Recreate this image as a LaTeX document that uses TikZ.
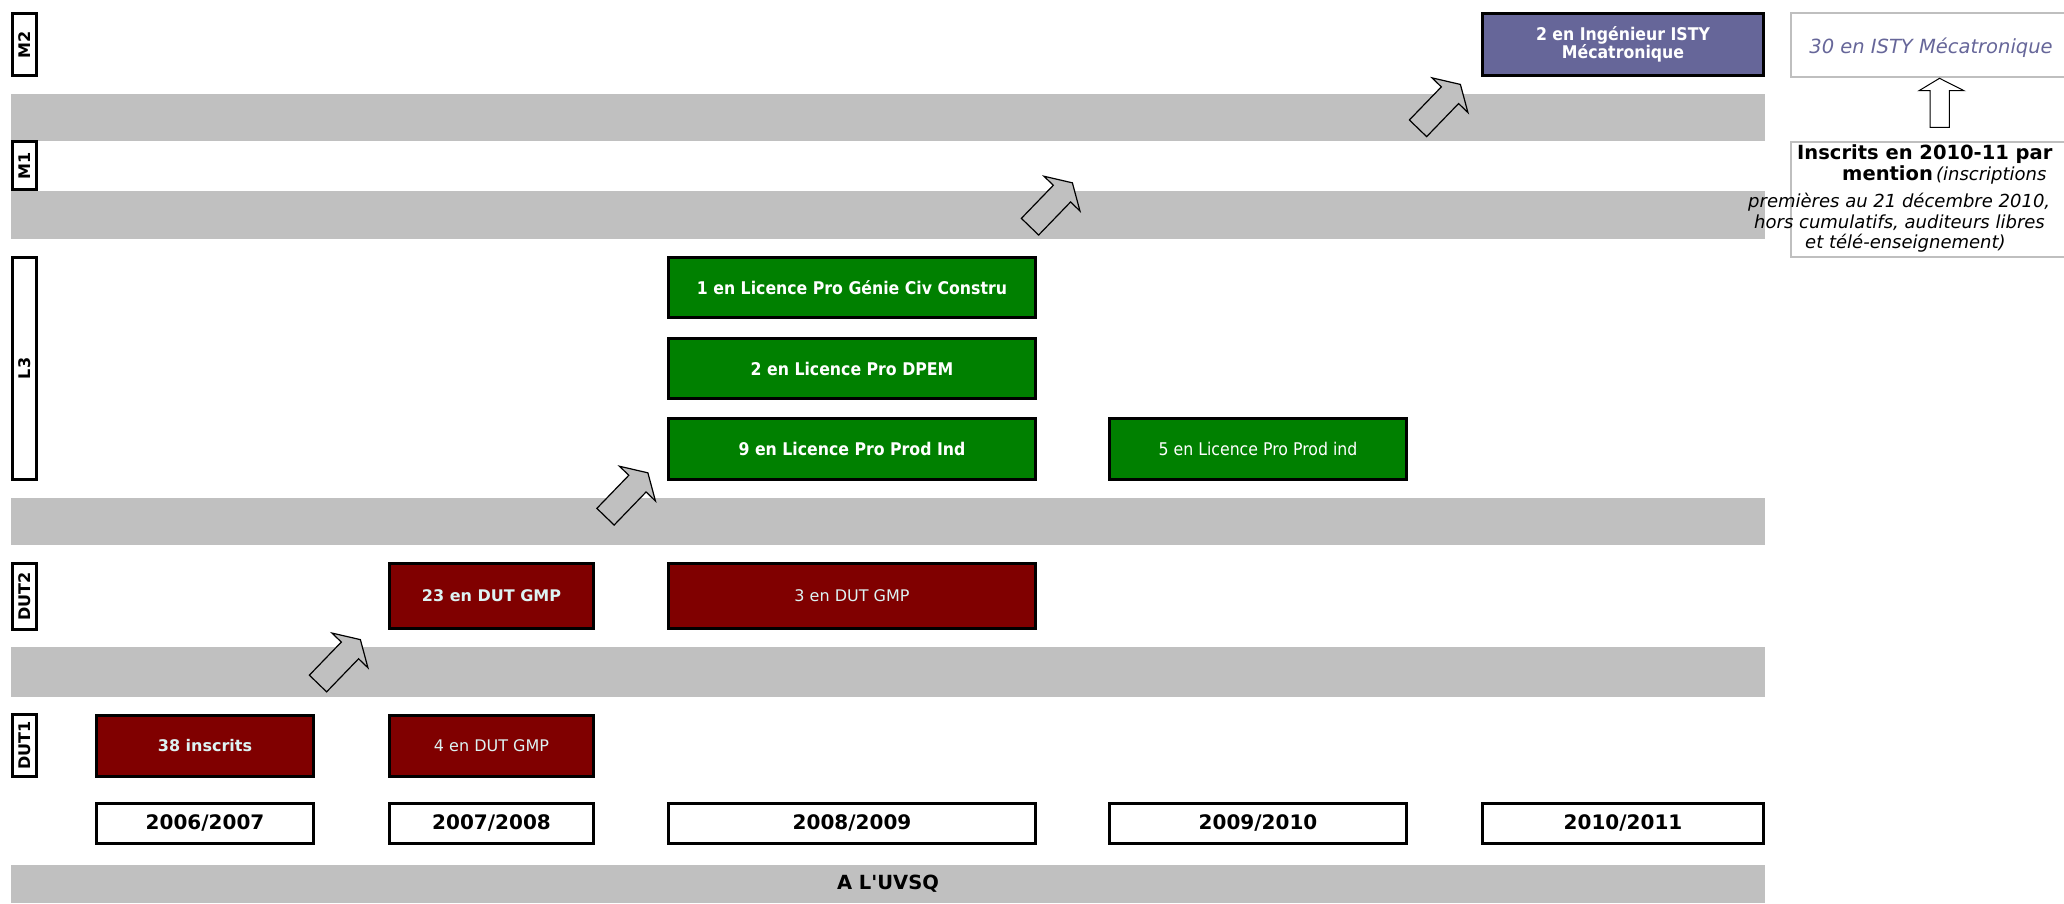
\documentclass[tikz,border=0pt]{standalone}
\usepackage{fontspec}
\setmainfont{DejaVu Sans}
\newfontfamily\tahoma[FakeStretch=0.9]{DejaVu Sans}
\usetikzlibrary{shadows}
\definecolor{bandgray}{HTML}{C0C0C0}
\definecolor{dred}{HTML}{800000}
\definecolor{dgreen}{HTML}{008000}
\definecolor{istyviolet}{HTML}{666699}
\definecolor{paletxt}{HTML}{DDF3F3}
\definecolor{boxgray}{HTML}{BFBFBF}
\newcommand\fs[1]{\fontsize{#1pt}{#1pt}\selectfont}
\tikzset{
  band/.style={fill=bandgray, draw=none},
  cell/.style={draw=black, line width=3pt, inner sep=0pt, align=center,
    drop shadow={shadow xshift=1.3pt, shadow yshift=-1.3pt, fill=black, opacity=1}},
  yearbox/.style={cell, fill=white, font=\fs{20}\bfseries},
  lvlbox/.style={draw=black, line width=3pt, fill=white, inner sep=0pt, rotate=90, font=\fs{16}\bfseries},
  redbold/.style={cell, fill=dred, text=paletxt, font=\fs{16}\bfseries},
  redreg/.style={cell, fill=dred, text=paletxt, font=\fs{16}},
  greenbold/.style={cell, fill=dgreen, text=white, font=\tahoma\fs{17.5}\bfseries},
  greenreg/.style={cell, fill=dgreen, text=white, font=\tahoma\fs{17.5}},
  purplebox/.style={cell, fill=istyviolet, text=white, font=\tahoma\fs{17.5}\bfseries},
  graybox/.style={draw=boxgray, line width=2pt, fill=white, inner sep=0pt},
  blockarrow/.style={fill=bandgray, draw=black, line width=1.2pt, line join=miter},
  hollowarrow/.style={fill=white, draw=black, line width=1pt, line join=miter},
}
\begin{document}
\begin{tikzpicture}[x=1pt, y=-1pt]
\useasboundingbox (0,0) rectangle (2064,903);
\fill[white] (0,0) rectangle (2064,903);

% horizontal bands
\fill[band] (11,94) rectangle (1765,141);
\fill[band] (11,191) rectangle (1765,239);
\fill[band] (11,498) rectangle (1765,545);
\fill[band] (11,647) rectangle (1765,697);
\node[band, minimum width=1754pt, minimum height=38pt, inner sep=0pt, font=\fs{19.5}\bfseries] (uvsq) at (888,884) {A L\textquotesingle UVSQ};

% level labels
\node[lvlbox, minimum width=62pt, minimum height=24pt] (lM2) at (24.5,44.5) {M2};
\node[lvlbox, minimum width=48pt, minimum height=24pt] (lM1) at (24.5,165.5) {M1};
\node[lvlbox, minimum width=222pt, minimum height=24pt] (lL3) at (24.5,368.5) {L3};
\node[lvlbox, minimum width=66pt, minimum height=24pt] (lDUT2) at (24.5,596.5) {DUT2};
\node[lvlbox, minimum width=62pt, minimum height=24pt] (lDUT1) at (24.5,745.5) {DUT1};

% year boxes
\node[yearbox, minimum width=217pt, minimum height=40pt] (y1) at (205,823) {2006/2007};
\node[yearbox, minimum width=204pt, minimum height=40pt] (y2) at (491.5,823) {2007/2008};
\node[yearbox, minimum width=367pt, minimum height=40pt] (y3) at (852,823) {2008/2009};
\node[yearbox, minimum width=297pt, minimum height=40pt] (y4) at (1258,823) {2009/2010};
\node[yearbox, minimum width=281pt, minimum height=40pt] (y5) at (1623,823) {2010/2011};

% DUT1
\node[redbold, minimum width=217pt, minimum height=61pt] (d1a) at (205,746) {38 inscrits};
\node[redreg, minimum width=204pt, minimum height=61pt] (d1b) at (491.5,746) {4 en DUT GMP};

% DUT2
\node[redbold, minimum width=204pt, minimum height=65pt] (d2a) at (491.5,596) {23 en DUT GMP};
\node[redreg, minimum width=367pt, minimum height=65pt] (d2b) at (852,596) {3 en DUT GMP};

% L3
\node[greenbold, minimum width=367pt, minimum height=60pt] (l3a) at (852,287.5) {1 en Licence Pro Génie Civ Constru};
\node[greenbold, minimum width=367pt, minimum height=60pt] (l3b) at (852,368.5) {2 en Licence Pro DPEM};
\node[greenbold, minimum width=367pt, minimum height=61pt] (l3c) at (852,449) {9 en Licence Pro Prod Ind};
\node[greenreg, minimum width=297pt, minimum height=61pt] (l3d) at (1258,449) {5 en Licence Pro Prod ind};

% M2
\node[purplebox, minimum width=281pt, minimum height=62pt] (m2a) at (1623,44.5) {2 en Ingénieur ISTY\\[-1pt]Mécatronique};

% block arrows
\begin{scope}[shift={(318,683.5)}, rotate=46]
\draw[blockarrow] (0,-12) -- (46,-12) -- (46,-25) -- (61,0) -- (46,25) -- (46,12) -- (0,12) -- cycle;
\end{scope}
\begin{scope}[shift={(605.5,516.7)}, rotate=46]
\draw[blockarrow] (0,-12) -- (46,-12) -- (46,-25) -- (61,0) -- (46,25) -- (46,12) -- (0,12) -- cycle;
\end{scope}
\begin{scope}[shift={(1030,226.7)}, rotate=46]
\draw[blockarrow] (0,-12) -- (46,-12) -- (46,-25) -- (61,0) -- (46,25) -- (46,12) -- (0,12) -- cycle;
\end{scope}
\begin{scope}[shift={(1418,128.3)}, rotate=46]
\draw[blockarrow] (0,-12) -- (46,-12) -- (46,-25) -- (61,0) -- (46,25) -- (46,12) -- (0,12) -- cycle;
\end{scope}

% right legend
\node[graybox, minimum width=275pt, minimum height=64pt] (isty) at (1928.5,45) {};
\node[anchor=base, inner sep=0pt, text=istyviolet, font=\fs{19.5}\itshape] (istyt) at (1931,53.5) {30 en ISTY Mécatronique};
\node[graybox, minimum width=275pt, minimum height=115pt] (inscr) at (1928.5,199) {};
\node[anchor=base west, inner sep=0pt, font=\fs{19.5}\bfseries] (i1) at (1797,159) {Inscrits en 2010-11 par};
\node[anchor=base west, inner sep=0pt] (i2) at (1842,180) {{\fs{19.5}\bfseries mention} {\fs{18}\itshape (inscriptions}};
\node[anchor=base west, inner sep=0pt, font=\fs{18}\itshape] (i3) at (1748,207) {premières au 21 décembre 2010,};
\node[anchor=base west, inner sep=0pt, font=\fs{18}\itshape] (i4) at (1754,228) {hors cumulatifs, auditeurs libres};
\node[anchor=base west, inner sep=0pt, font=\fs{18}\itshape] (i5) at (1805,248) {et télé-enseignement)};
\draw[hollowarrow] (1930,127.3) -- (1930,90.7) -- (1919,90.7) -- (1939.5,78.3) -- (1964,90.7) -- (1949.3,90.7) -- (1949.3,127.3) -- cycle;
\end{tikzpicture}
\end{document}
